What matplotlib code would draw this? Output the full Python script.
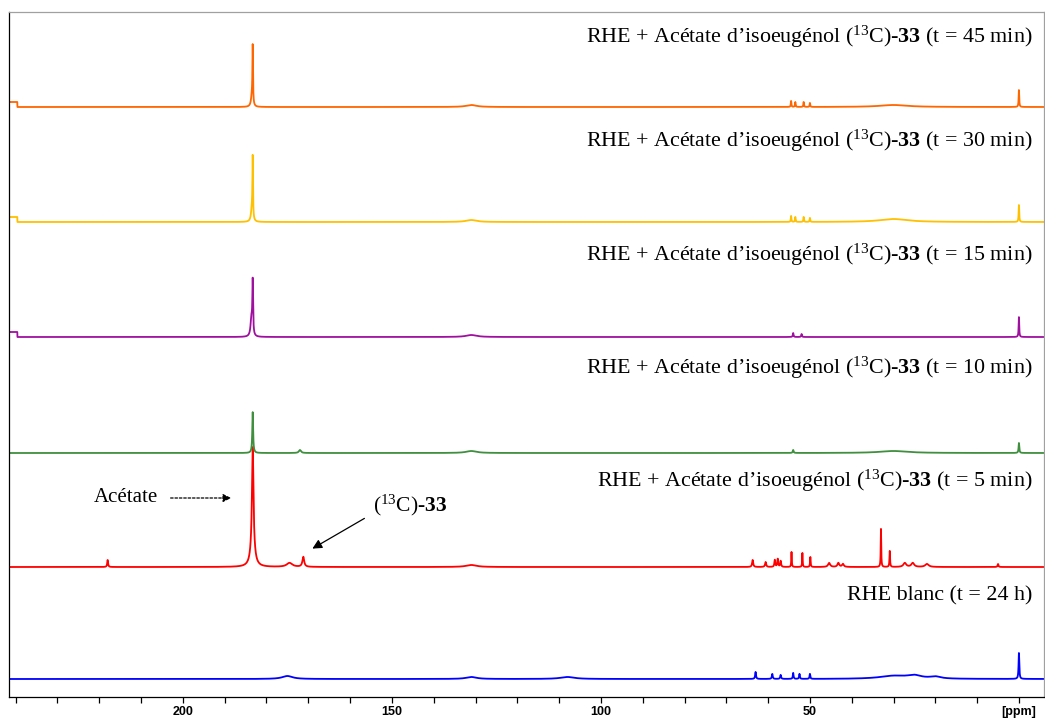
import numpy as np
import matplotlib
matplotlib.use("Agg")
import matplotlib.pyplot as plt

plt.rcParams['mathtext.fontset'] = 'custom'
plt.rcParams['mathtext.rm'] = 'Liberation Serif'
plt.rcParams['mathtext.bf'] = 'Liberation Serif:bold'
plt.rcParams['mathtext.it'] = 'Liberation Serif:italic'

# spectrum layout (ppm axis, vertical offsets in plot units)
X_LEFT, X_RIGHT = 241.6, -6.0
offsets = [18, 130, 244, 360, 475, 590]
colors = ['#0000ff', '#ff0000', '#3f8f3f', '#a0109f', '#ffc000', '#ff6600']
labels = [
    r"RHE blanc (t = 24 h)",
    r"RHE + Acétate d’isoeugénol ($^{13}$C)-$\mathbf{33}$ (t = 5 min)",
    r"RHE + Acétate d’isoeugénol ($^{13}$C)-$\mathbf{33}$ (t = 10 min)",
    r"RHE + Acétate d’isoeugénol ($^{13}$C)-$\mathbf{33}$ (t = 15 min)",
    r"RHE + Acétate d’isoeugénol ($^{13}$C)-$\mathbf{33}$ (t = 30 min)",
    r"RHE + Acétate d’isoeugénol ($^{13}$C)-$\mathbf{33}$ (t = 45 min)",
]
label_y = [101, 216, 329, 442, 556, 660]

# peak tables: position (ppm), height, width (ppm)
blue_pos = [0.0, 63.0, 59.0, 57.0, 54.0, 52.5, 50.0, 175.0, 131.0, 108.0, 30.0, 25.0, 20.0]
blue_h = [26, 7, 5, 4, 6, 5, 5, 3, 2, 2, 3, 3, 2]
blue_w = [0.1, 0.12, 0.12, 0.12, 0.1, 0.1, 0.1, 1.5, 1.5, 2.0, 4.0, 2.0, 1.5]

red_pos = [183.3, 183.3, 218.0, 171.2, 174.5, 63.7, 60.6, 58.4, 57.7, 57.0, 54.4, 51.8, 49.9,
           45.4, 43.2, 42.1, 33.0, 30.9, 27.3, 25.4, 22.0, 5.0, 131.0]
red_h = [95, 25, 7, 10, 4, 7, 5, 7, 8, 6, 15, 14, 10, 4, 4, 3, 38, 16, 4, 4, 3, 3, 2]
red_w = [0.2, 0.5, 0.12, 0.25, 0.8, 0.15, 0.15, 0.12, 0.12, 0.12, 0.07, 0.07, 0.08,
         0.3, 0.25, 0.25, 0.07, 0.08, 0.4, 0.4, 0.5, 0.12, 1.5]

green_pos = [183.3, 0.0, 172.0, 54.0, 131.0, 30.0]
green_h = [41, 10, 3, 3, 2, 2]
green_w = [0.12, 0.1, 0.3, 0.12, 1.5, 4.0]

purple_pos = [183.3, 183.6, 0.0, 54.0, 52.0, 131.0]
purple_h = [52, 18, 20, 4, 3, 2]
purple_w = [0.1, 0.25, 0.08, 0.1, 0.1, 1.5]

yellow_pos = [183.3, 183.5, 0.0, 54.5, 53.5, 51.5, 50.0, 131.0, 30.0]
yellow_h = [60, 12, 17, 6, 5, 5, 4, 2, 3]
yellow_w = [0.08, 0.25, 0.08, 0.08, 0.08, 0.08, 0.08, 1.5, 4.0]

orange_pos = [183.3, 183.5, 0.0, 54.5, 53.5, 51.5, 50.0, 131.0, 30.0]
orange_h = [57, 10, 17, 6, 5, 5, 4, 2, 2]
orange_w = [0.08, 0.25, 0.08, 0.08, 0.08, 0.08, 0.08, 1.5, 4.0]

peak_tables = [
    (blue_pos, blue_h, blue_w),
    (red_pos, red_h, red_w),
    (green_pos, green_h, green_w),
    (purple_pos, purple_h, purple_w),
    (yellow_pos, yellow_h, yellow_w),
    (orange_pos, orange_h, orange_w),
]
# small baseline step at the left edge (ppm where it ends, height)
left_steps = [(None, 0), (None, 0), (None, 0), (239.6, 5), (239.6, 5), (239.6, 5)]

ppm = np.linspace(X_LEFT, X_RIGHT, 12000)


def build_spectrum(pos, h, w, step):
    y = np.zeros_like(ppm)
    for p0, h0, w0 in zip(pos, h, w):
        y += h0 * w0 ** 2 / ((ppm - p0) ** 2 + w0 ** 2)
    if step[0] is not None:
        y += np.where(ppm > step[0], step[1], 0)
    return y


fig = plt.figure(figsize=(10.45, 7.22), dpi=100)
ax = fig.add_axes([9 / 1045, 1 - 697 / 722, 1035 / 1045, 685 / 722])

for (pos, h, w), step, off, col in zip(peak_tables, left_steps, offsets, colors):
    ax.plot(ppm, build_spectrum(pos, h, w, step) + off, color=col, lw=1.3)

for lab, ly in zip(labels, label_y):
    ax.text(-3.3, ly, lab, ha='right', va='center', fontsize=15.8,
            family='Liberation Serif', color='black')

# annotations on the 5 min spectrum
ax.text(206, 199, "Acétate", ha='right', va='center', fontsize=15, family='Liberation Serif')
ax.annotate("", xy=(187.8, 199), xytext=(203.6, 199),
            arrowprops=dict(arrowstyle='-|>', linestyle=(0, (2, 1.5)), lw=0.9,
                            color='black', mutation_scale=12))
ax.text(154.5, 192, r"($^{13}$C)-$\mathbf{33}$", ha='left', va='center', fontsize=15.5,
        family='Liberation Serif')
ax.annotate("", xy=(169.6, 147), xytext=(156, 180),
            arrowprops=dict(arrowstyle='-|>', lw=0.9, color='black', mutation_scale=14))

ax.set_xlim(X_LEFT, X_RIGHT)
ax.set_ylim(0, 685)
ax.set_yticks([])
ax.set_xticks([200, 150, 100, 50, 0])
ax.set_xticklabels(['200', '150', '100', '50', '[ppm]'])
ax.set_xticks(np.arange(0, 241, 10), minor=True)
ax.tick_params(axis='x', which='both', direction='out', length=4.5, width=0.9, pad=2)
for t in ax.get_xticklabels():
    t.set_family('Liberation Sans')
    t.set_fontweight('bold')
    t.set_fontsize(9)

ax.spines['left'].set_color('black')
ax.spines['bottom'].set_color('black')
ax.spines['top'].set_color('#a0a0a0')
ax.spines['right'].set_color('#a0a0a0')
for s in ax.spines.values():
    s.set_linewidth(0.9)

fig.savefig("out.png", dpi=100)
